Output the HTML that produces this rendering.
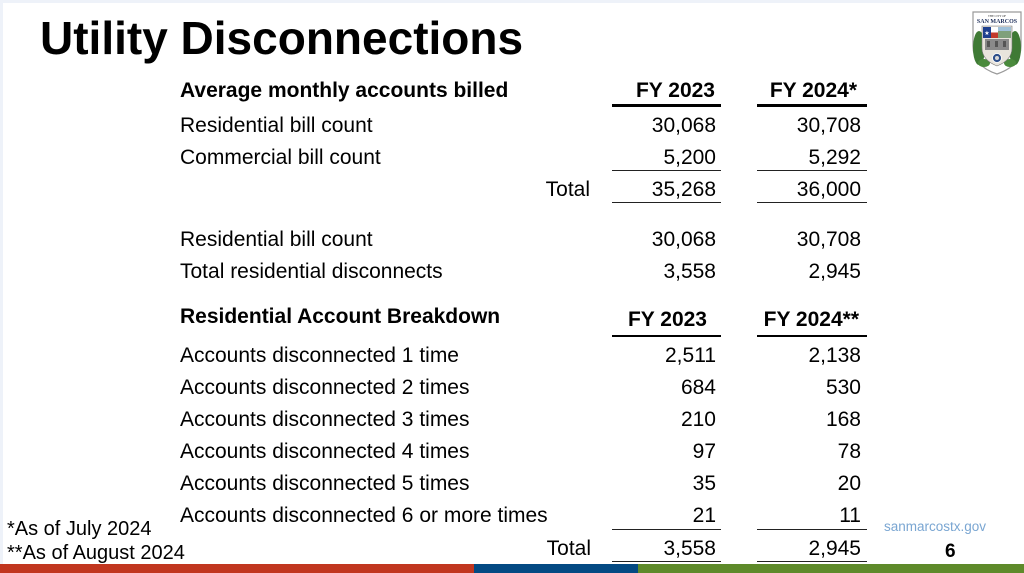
<!DOCTYPE html>
<html>
<head>
<meta charset="utf-8">
<style>
  html,body{margin:0;padding:0;}
  body{width:1024px;height:573px;position:relative;overflow:hidden;background:#eef2f9;
       font-family:"Liberation Sans", Arial, sans-serif;color:#000;}
  .panel{position:absolute;left:3px;top:3px;width:1021px;height:561px;background:#fff;}
  .t{position:absolute;line-height:1;white-space:nowrap;font-size:21px;}
  .b{font-weight:bold;font-size:21px;}
  .c1{right:308px;text-align:right;}
  .c2{right:163px;text-align:right;}
  .ln{position:absolute;background:#222;height:1.6px;}
  .thick{position:absolute;background:#000;height:2.6px;}
  .bar{position:absolute;top:564px;height:9px;}
</style>
</head>
<body>
<div class="panel"></div>

<div class="t b" style="left:40px;top:15px;font-size:46px;">Utility Disconnections</div>

<!-- Section 1 header -->
<div class="t b" style="left:180px;top:80px;">Average monthly accounts billed</div>
<div class="t b" style="right:309px;top:80px;">FY 2023</div>
<div class="t b" style="right:167px;top:80px;">FY 2024*</div>
<div class="thick" style="left:612px;width:109px;top:104px;"></div>
<div class="thick" style="left:757px;width:110px;top:104px;"></div>

<!-- Rows -->
<div class="t" style="left:180px;top:115.3px;">Residential bill count</div>
<div class="t c1" style="top:115.3px;">30,068</div>
<div class="t c2" style="top:115.3px;">30,708</div>

<div class="t" style="left:180px;top:147.3px;">Commercial bill count</div>
<div class="t c1" style="top:147.3px;">5,200</div>
<div class="t c2" style="top:147.3px;">5,292</div>
<div class="ln" style="left:612px;width:109px;top:169.5px;"></div>
<div class="ln" style="left:757px;width:110px;top:169.5px;"></div>

<div class="t" style="right:434px;top:179.3px;">Total</div>
<div class="t c1" style="top:179.3px;">35,268</div>
<div class="t c2" style="top:179.3px;">36,000</div>
<div class="ln" style="left:612px;width:109px;top:201.5px;"></div>
<div class="ln" style="left:757px;width:110px;top:201.5px;"></div>

<div class="t" style="left:180px;top:229.3px;">Residential bill count</div>
<div class="t c1" style="top:229.3px;">30,068</div>
<div class="t c2" style="top:229.3px;">30,708</div>

<div class="t" style="left:180px;top:260.8px;">Total residential disconnects</div>
<div class="t c1" style="top:260.8px;">3,558</div>
<div class="t c2" style="top:260.8px;">2,945</div>

<!-- Section 2 header -->
<div class="t b" style="left:180px;top:305.5px;">Residential Account Breakdown</div>
<div class="t b" style="right:317px;top:308.5px;">FY 2023</div>
<div class="t b" style="right:165px;top:308.5px;">FY 2024**</div>
<div class="thick" style="left:612px;width:109px;top:334.5px;"></div>
<div class="thick" style="left:757px;width:110px;top:334.5px;"></div>

<div class="t" style="left:180px;top:344.6px;">Accounts disconnected 1 time</div>
<div class="t c1" style="top:344.6px;">2,511</div>
<div class="t c2" style="top:344.6px;">2,138</div>

<div class="t" style="left:180px;top:376.8px;">Accounts disconnected 2 times</div>
<div class="t c1" style="top:376.8px;">684</div>
<div class="t c2" style="top:376.8px;">530</div>

<div class="t" style="left:180px;top:409px;">Accounts disconnected 3 times</div>
<div class="t c1" style="top:409px;">210</div>
<div class="t c2" style="top:409px;">168</div>

<div class="t" style="left:180px;top:441.3px;">Accounts disconnected 4 times</div>
<div class="t c1" style="top:441.3px;">97</div>
<div class="t c2" style="top:441.3px;">78</div>

<div class="t" style="left:180px;top:473.3px;">Accounts disconnected 5 times</div>
<div class="t c1" style="top:473.3px;">35</div>
<div class="t c2" style="top:473.3px;">20</div>

<div class="t" style="left:180px;top:505.3px;">Accounts disconnected 6 or more times</div>
<div class="t c1" style="top:505.3px;">21</div>
<div class="t c2" style="top:505.3px;">11</div>
<div class="ln" style="left:612px;width:109px;top:528.5px;"></div>
<div class="ln" style="left:757px;width:110px;top:528.5px;"></div>

<div class="t" style="right:433px;top:537.8px;">Total</div>
<div class="t c1" style="top:537.8px;">3,558</div>
<div class="t c2" style="top:537.8px;">2,945</div>
<div class="ln" style="left:612px;width:109px;top:560.5px;"></div>
<div class="ln" style="left:757px;width:110px;top:560.5px;"></div>

<!-- Footnotes -->
<div class="t" style="left:7px;top:519px;font-size:20px;">*As of July 2024</div>
<div class="t" style="left:7px;top:543px;font-size:20px;">**As of August 2024</div>

<div class="t" style="left:884px;top:519.5px;font-size:13.5px;color:#7aa6d2;">sanmarcostx.gov</div>
<div class="t" style="left:945px;top:542px;font-size:19px;font-weight:bold;">6</div>

<!-- Bottom bar -->
<div class="bar" style="left:0;width:474px;background:#c1361f;"></div>
<div class="bar" style="left:474px;width:164px;background:#044a83;"></div>
<div class="bar" style="left:638px;width:386px;background:#5e8a2a;"></div>

<!-- Logo -->
<svg style="position:absolute;left:970px;top:8px;" width="54" height="68" viewBox="0 0 54 68">
  <path d="M3 4 L51 4 L51 38 Q51 58 27 66 Q3 58 3 38 Z" fill="#fff" stroke="#9a9a9a" stroke-width="1.2"/>
  <text x="27" y="9" font-family="Liberation Serif, serif" font-size="3" text-anchor="middle" fill="#333">THE CITY OF</text>
  <text x="27" y="15" font-family="Liberation Serif, serif" font-size="6" font-weight="bold" text-anchor="middle" fill="#1f2f5a">SAN MARCOS</text>
  <!-- wreath -->
  <ellipse cx="9" cy="40" rx="6" ry="17" fill="#3f7a35"/>
  <ellipse cx="45" cy="40" rx="6" ry="17" fill="#3f7a35"/>
  <ellipse cx="14" cy="55" rx="6" ry="4" fill="#4a8a3c"/>
  <ellipse cx="40" cy="55" rx="6" ry="4" fill="#4a8a3c"/>
  <!-- inner shield -->
  <path d="M12 18 L42 18 L42 40 Q42 52 27 58 Q12 52 12 40 Z" fill="#e8e4dc" stroke="#777" stroke-width="0.6"/>
  <!-- flag -->
  <rect x="13" y="19" width="8" height="11" fill="#1d3f8f"/>
  <text x="17" y="27" font-size="6" text-anchor="middle" fill="#fff">★</text>
  <rect x="21" y="19" width="7" height="5.5" fill="#fff"/>
  <rect x="21" y="24.5" width="7" height="5.5" fill="#c23a2c"/>
  <!-- landscape -->
  <rect x="28" y="19" width="13" height="11" fill="#7fa07a"/>
  <rect x="28" y="19" width="13" height="4" fill="#9fc0d8"/>
  <!-- building -->
  <rect x="15" y="31" width="24" height="11" fill="#8a8a8a"/>
  <rect x="17" y="33" width="3" height="6" fill="#555"/>
  <rect x="25" y="33" width="3" height="6" fill="#555"/>
  <rect x="33" y="33" width="3" height="6" fill="#555"/>
  <!-- seal -->
  <circle cx="27" cy="50" r="4.5" fill="#2f4f8a" stroke="#fff" stroke-width="0.8"/>
  <circle cx="27" cy="50" r="2" fill="#d9d9d9"/>
</svg>

</body>
</html>
